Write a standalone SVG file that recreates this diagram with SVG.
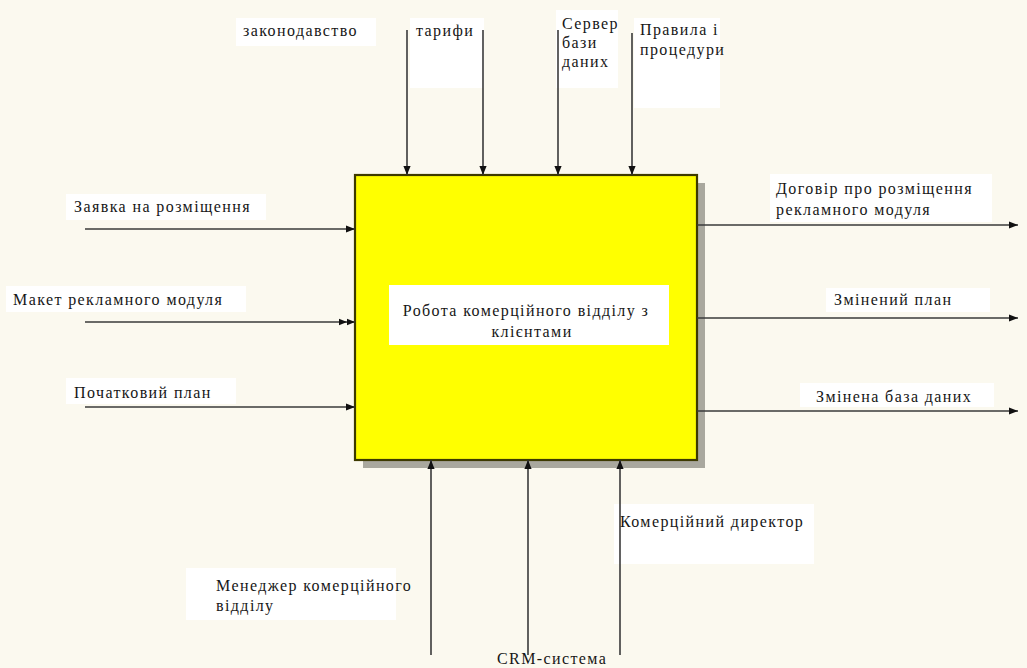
<svg xmlns="http://www.w3.org/2000/svg" width="1027" height="668" viewBox="0 0 1027 668">
  <style>
    .lbl { font-family: "Liberation Serif", "DejaVu Serif", serif; font-size: 16px; fill: #161616; letter-spacing: 1.4px; }
    .pad { fill: #ffffff; }
    .arc { stroke: #3a3a3a; stroke-width: 1.6; fill: none; }
  </style>
  <defs>
    <marker id="head" viewBox="0 0 10 10" refX="10" refY="5" markerWidth="9" markerHeight="9" markerUnits="userSpaceOnUse" orient="auto">
      <path d="M0,1 L10,5 L0,9 Z" fill="#111"/>
    </marker>
    <marker id="head2" viewBox="0 0 20 10" refX="20" refY="5" markerWidth="16" markerHeight="8" markerUnits="userSpaceOnUse" orient="auto">
      <path d="M0,1 L10,5 L0,9 Z M10,1 L20,5 L10,9 Z" fill="#111"/>
    </marker>
  </defs>

  <!-- page -->
  <rect x="0" y="0" width="1027" height="668" fill="#fbf9ef"/>

  <!-- label backdrops -->
  <g id="backdrops">
    <rect class="pad" x="236" y="18" width="140" height="28"/>
    <rect class="pad" x="410" y="18" width="74" height="70"/>
    <rect class="pad" x="556" y="10" width="62" height="78"/>
    <rect class="pad" x="634" y="18" width="86" height="90"/>
    <rect class="pad" x="66" y="194" width="200" height="26"/>
    <rect class="pad" x="6" y="286" width="240" height="26"/>
    <rect class="pad" x="66" y="378" width="170" height="26"/>
    <rect class="pad" x="770" y="174" width="222" height="48"/>
    <rect class="pad" x="826" y="288" width="164" height="24"/>
    <rect class="pad" x="800" y="383" width="194" height="24"/>
    <rect class="pad" x="614" y="504" width="200" height="60"/>
    <rect class="pad" x="186" y="568" width="210" height="52"/>
  </g>

  <!-- activity box -->
  <g id="activity">
    <rect x="363" y="183" width="342" height="285" fill="#a9a89e"/>
    <rect x="355" y="175" width="342" height="285" fill="#ffff00" stroke="#3d3a00" stroke-width="2.2"/>
    <rect x="389" y="285" width="280" height="60" fill="#ffffff"/>
    <text class="lbl" x="526" y="316" text-anchor="middle">Робота комерційного відділу з</text>
    <text class="lbl" x="532" y="337" text-anchor="middle">клієнтами</text>
  </g>

  <!-- arrows -->
  <g id="connectors">
    <line class="arc" x1="407" y1="30" x2="407" y2="175" marker-end="url(#head)"/>
    <line class="arc" x1="483" y1="30" x2="483" y2="175" marker-end="url(#head)"/>
    <line class="arc" x1="558" y1="30" x2="558" y2="175" marker-end="url(#head)"/>
    <line class="arc" x1="632" y1="33" x2="632" y2="175" marker-end="url(#head)"/>

    <line class="arc" x1="85" y1="229" x2="355" y2="229" marker-end="url(#head)"/>
    <line class="arc" x1="85" y1="322" x2="355" y2="322" marker-end="url(#head2)"/>
    <line class="arc" x1="85" y1="407" x2="355" y2="407" marker-end="url(#head)"/>

    <line class="arc" x1="697" y1="225" x2="1018" y2="225" marker-end="url(#head)"/>
    <line class="arc" x1="697" y1="318" x2="1018" y2="318" marker-end="url(#head)"/>
    <line class="arc" x1="697" y1="411" x2="1018" y2="411" marker-end="url(#head)"/>

    <line class="arc" x1="431" y1="655" x2="431" y2="460" marker-end="url(#head)"/>
    <line class="arc" x1="528" y1="655" x2="528" y2="460" marker-end="url(#head)"/>
    <line class="arc" x1="620" y1="655" x2="620" y2="460" marker-end="url(#head)"/>
  </g>

  <!-- arrow labels -->
  <g id="label-zakonodavstvo"><text class="lbl" x="243" y="36">законодавство</text></g>
  <g id="label-taryfy"><text class="lbl" x="416" y="36">тарифи</text></g>
  <g id="label-server">
    <text class="lbl" x="562" y="29">Сервер</text>
    <text class="lbl" x="562" y="48">бази</text>
    <text class="lbl" x="562" y="67">даних</text>
  </g>
  <g id="label-pravyla">
    <text class="lbl" x="640" y="35">Правила і</text>
    <text class="lbl" x="640" y="55">процедури</text>
  </g>
  <g id="label-zayavka"><text class="lbl" x="74" y="212">Заявка на розміщення</text></g>
  <g id="label-maket"><text class="lbl" x="13" y="305">Макет рекламного модуля</text></g>
  <g id="label-pochatkovyi"><text class="lbl" x="74" y="398">Початковий план</text></g>
  <g id="label-dogovir">
    <text class="lbl" x="776" y="194">Договір про розміщення</text>
    <text class="lbl" x="776" y="215">рекламного модуля</text>
  </g>
  <g id="label-zminenyi-plan"><text class="lbl" x="834" y="305">Змінений план</text></g>
  <g id="label-zminena-baza"><text class="lbl" x="816" y="402">Змінена база даних</text></g>
  <g id="label-dyrektor"><text class="lbl" x="620" y="527">Комерційний директор</text></g>
  <g id="label-menedzher">
    <text class="lbl" x="216" y="591">Менеджер комерційного</text>
    <text class="lbl" x="216" y="611">відділу</text>
  </g>
  <g id="label-crm"><text class="lbl" x="497" y="664">CRM-система</text></g>
</svg>
